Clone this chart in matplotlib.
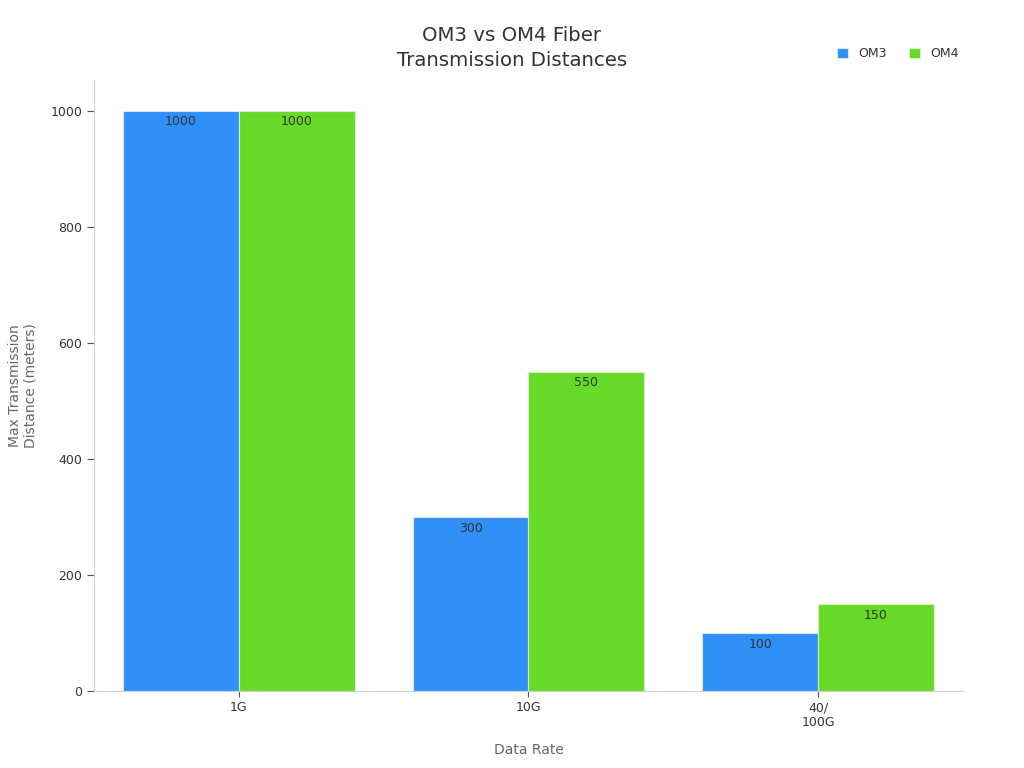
import matplotlib
matplotlib.use("Agg")
import matplotlib.pyplot as plt
import numpy as np

categories = ["1G", "10G", "40/\n100G"]
om3 = [1000, 300, 100]
om4 = [1000, 550, 150]

fig = plt.figure(figsize=(10.24, 7.68), dpi=100)
ax = fig.add_axes([0.0918, 0.1003, 0.8486, 0.7957])

x = np.arange(len(categories))
w = 0.4
b1 = ax.bar(x - w / 2, om3, w, color="#2f91f7", edgecolor="#d8e8f8", linewidth=0.8, label="OM3")
b2 = ax.bar(x + w / 2, om4, w, color="#66da26", edgecolor="#d8f0c8", linewidth=0.8, label="OM4")

for bars in (b1, b2):
    for r in bars:
        ax.text(r.get_x() + r.get_width() / 2, r.get_height() - 8, f"{int(r.get_height())}",
                ha="center", va="top", fontsize=9, color="#333333")

ax.set_xlim(-0.5, 2.5)
ax.set_ylim(0, 1053)
ax.set_xticks(x)
ax.set_xticklabels(categories, fontsize=9, color="#333333")
ax.set_yticks([0, 200, 400, 600, 800, 1000])
ax.tick_params(axis="y", labelsize=9, colors="#333333", length=5, color="#555555")
ax.tick_params(axis="x", length=4, color="#555555")

for s in ("top", "right"):
    ax.spines[s].set_visible(False)
ax.spines["left"].set_color("#d0d0d0")
ax.spines["bottom"].set_color("#d0d0d0")

ax.set_xlabel("Data Rate", fontsize=10, color="#666666", labelpad=10)
ax.set_ylabel("Max Transmission\nDistance (meters)", fontsize=10, color="#666666", labelpad=9)
fig.text(0.5, 0.938, "OM3 vs OM4 Fiber\nTransmission Distances", ha="center", va="center",
         fontsize=14.2, color="#333333", linespacing=1.4)

leg = ax.legend(loc="upper right", bbox_to_anchor=(1.008, 1.072), ncol=2, frameon=False,
                fontsize=9, handlelength=0.9, handleheight=0.9, columnspacing=1.8,
                labelcolor="#333333")

fig.savefig("out.png", dpi=100)
